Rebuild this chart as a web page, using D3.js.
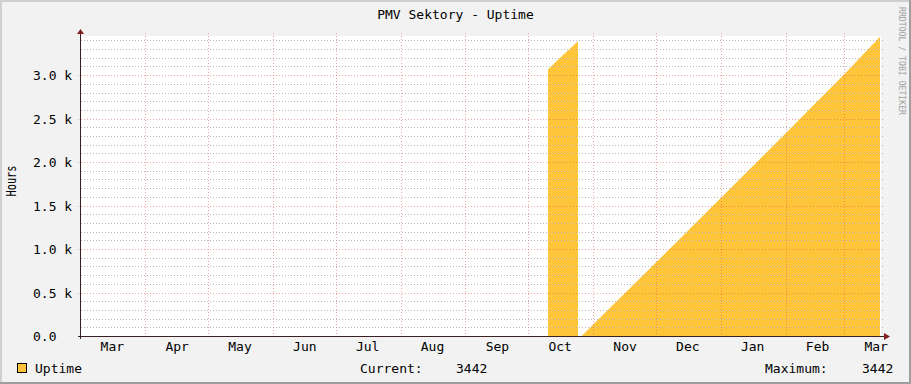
<!DOCTYPE html>
<html>
<head>
<meta charset="utf-8">
<script src="https://cdn.jsdelivr.net/npm/d3@7"></script>
<style>
body { margin: 0; background: #fff; }
svg { display: block; }
text { font-family: "DejaVu Sans Mono", monospace; fill: #000; }
</style>
</head>
<body>
<svg width="911" height="384"></svg>
<script>
// time window of the graph (UTC)
var windowStart = "2014-03-01T06:40:00Z",
  windowEnd = "2015-03-18T13:00:00Z";

// uptime samples, null = unknown
var sampleTimes = [
  "2014-10-10T10:00:00Z", "2014-10-17T12:00:00Z", "2014-10-24T18:00:00Z",
  "2014-10-25T12:00:00Z",
  "2014-10-26T12:00:00Z", "2014-11-01T00:00:00Z", "2014-12-01T00:00:00Z",
  "2015-01-01T00:00:00Z", "2015-02-01T00:00:00Z", "2015-03-01T00:00:00Z",
  "2015-03-18T01:30:00Z"
];
var uptimeHours = [
  3065, 3230, 3390,
  null,
  0, 133, 844,
  1586, 2331, 3011,
  3442
];

var monthLabels = ["Mar", "Apr", "May", "Jun", "Jul", "Aug", "Sep", "Oct", "Nov", "Dec", "Jan", "Feb", "Mar"];
var yMajorTicks = [0, 500, 1000, 1500, 2000, 2500, 3000];
var yMinorTicks = [100, 200, 300, 400, 600, 700, 800, 900, 1100, 1200, 1300, 1400,
  1600, 1700, 1800, 1900, 2100, 2200, 2300, 2400, 2600, 2700, 2800, 2900, 3100, 3200, 3300, 3400];

var svg = d3.select("svg"),
  W = +svg.attr("width"),
  H = +svg.attr("height"),
  margin = { left: 81, top: 36 },
  width = 800,
  height = 300;

var parse = d3.utcParse("%Y-%m-%dT%H:%M:%SZ");
var data = sampleTimes.map(function(t, i) {
  return { t: parse(t), v: uptimeHours[i] };
});

var x = d3.scaleUtc()
  .domain([parse(windowStart), parse(windowEnd)])
  .range([margin.left, margin.left + width]);
var y = d3.scaleLinear()
  .domain([0, 3450])
  .range([margin.top + height, margin.top]);

var gridCol = "#b8b8b8",
  mgridCol = "rgba(222,79,79,0.5)",
  axisCol = "#3a2020",
  arrowCol = "#801f1f";

// background + shaded border
svg.append("rect").attr("width", W).attr("height", H).attr("fill", "#f2f2f2");
svg.append("rect").attr("x", 0).attr("y", 0).attr("width", W).attr("height", 2).attr("fill", "#cfcfcf");
svg.append("rect").attr("x", 0).attr("y", 0).attr("width", 2).attr("height", H).attr("fill", "#cfcfcf");
svg.append("rect").attr("x", 0).attr("y", H - 2).attr("width", W).attr("height", 2).attr("fill", "#9e9e9e");
svg.append("rect").attr("x", W - 2).attr("y", 0).attr("width", 2).attr("height", H).attr("fill", "#9e9e9e");

// canvas
svg.append("rect")
  .attr("x", margin.left).attr("y", margin.top)
  .attr("width", width).attr("height", height)
  .attr("fill", "#fff");

// area
var area = d3.area()
  .defined(function(d) { return d.v != null; })
  .x(function(d) { return x(d.t); })
  .y0(y(0))
  .y1(function(d) { return y(d.v); });

svg.append("path")
  .datum(data)
  .attr("d", area)
  .attr("fill", "#ffc53a");

var px = function(v) { return Math.round(v) + 0.5; };

// horizontal grid
var grid = svg.append("g").attr("shape-rendering", "crispEdges");
grid.selectAll(".minor")
  .data(yMinorTicks)
  .enter().append("line")
  .attr("class", "minor")
  .attr("x1", margin.left).attr("x2", margin.left + width + 2)
  .attr("y1", function(d) { return px(y(d)); })
  .attr("y2", function(d) { return px(y(d)); })
  .attr("stroke", gridCol)
  .attr("stroke-dasharray", "1,2");

grid.selectAll(".major")
  .data(yMajorTicks.slice(1))
  .enter().append("line")
  .attr("class", "major")
  .attr("x1", margin.left - 3).attr("x2", margin.left + width + 2)
  .attr("y1", function(d) { return px(y(d)); })
  .attr("y2", function(d) { return px(y(d)); })
  .attr("stroke", mgridCol)
  .attr("stroke-dasharray", "1,2");

// vertical month grid
var monthStarts = d3.utcMonth.range(d3.utcMonth.ceil(x.domain()[0]), x.domain()[1]);
grid.selectAll(".vgrid")
  .data(monthStarts)
  .enter().append("line")
  .attr("class", "vgrid")
  .attr("x1", function(d) { return px(x(d)); })
  .attr("x2", function(d) { return px(x(d)); })
  .attr("y1", margin.top - 3)
  .attr("y2", margin.top + height + 3)
  .attr("stroke", mgridCol)
  .attr("stroke-dasharray", "1,2");

// axes lines + arrows
var ax = svg.append("g").attr("shape-rendering", "crispEdges");
ax.append("line")
  .attr("x1", margin.left - 0.5).attr("x2", margin.left - 0.5)
  .attr("y1", margin.top + height + 3).attr("y2", margin.top - 3)
  .attr("stroke", axisCol);
ax.append("line")
  .attr("x1", margin.left - 3).attr("x2", margin.left + width + 4)
  .attr("y1", margin.top + height + 0.5).attr("y2", margin.top + height + 0.5)
  .attr("stroke", axisCol);
svg.append("path")
  .attr("d", "M" + (margin.left - 4) + "," + (margin.top - 2) + "L" + (margin.left - 0.5) + "," + (margin.top - 7) + "L" + (margin.left + 3) + "," + (margin.top - 2) + "Z")
  .attr("fill", arrowCol);
svg.append("path")
  .attr("d", "M" + (margin.left + width + 3) + "," + (margin.top + height - 3) + "L" + (margin.left + width + 9) + "," + (margin.top + height + 0.5) + "L" + (margin.left + width + 3) + "," + (margin.top + height + 4) + "Z")
  .attr("fill", arrowCol);

// y labels
var yFmt = function(v) { return v === 0 ? "0.0" : (v / 1000).toFixed(1) + " k"; };
var yAxis = svg.append("g")
  .call(d3.axisLeft(y).tickValues(yMajorTicks).tickFormat(yFmt).tickSize(0));
yAxis.attr("font-family", null).attr("font-size", null);
yAxis.select(".domain").remove();
yAxis.selectAll("text")
  .attr("x", 33)
  .attr("dy", "0.36em")
  .attr("text-anchor", "start")
  .style("font-size", "13px");

// x labels, centred mid-month
var labelTimes = d3.utcMonth.range(d3.utcMonth.floor(x.domain()[0]), x.domain()[1])
  .map(function(m) { return d3.utcDay.offset(m, 15); });
var xAxis = svg.append("g")
  .attr("transform", "translate(0," + (margin.top + height) + ")")
  .call(d3.axisBottom(x).tickValues(labelTimes)
    .tickFormat(function(d, i) { return monthLabels[i]; }).tickSize(0));
xAxis.attr("font-family", null).attr("font-size", null);
xAxis.select(".domain").remove();
xAxis.selectAll("text")
  .attr("y", 6)
  .attr("dy", "0.71em")
  .style("font-size", "13px");

// title
svg.append("text")
  .attr("x", W / 2).attr("y", 19)
  .attr("text-anchor", "middle")
  .style("font-size", "13px")
  .text("PMV Sektory - Uptime");

// vertical unit label
svg.append("text")
  .attr("transform", "translate(16," + 181 + ") rotate(-90)")
  .attr("text-anchor", "middle")
  .attr("textLength", 31)
  .attr("lengthAdjust", "spacingAndGlyphs")
  .style("font-size", "13.5px")
  .text("Hours");

// watermark
svg.append("text")
  .attr("transform", "translate(899,61) rotate(90)")
  .attr("text-anchor", "middle")
  .attr("textLength", 108)
  .attr("lengthAdjust", "spacingAndGlyphs")
  .style("font-size", "9px")
  .style("fill", "#a0a0a0")
  .text("RRDTOOL / TOBI OETIKER");

// legend
var known = uptimeHours.filter(function(v) { return v != null; });
var current = known[known.length - 1],
  maximum = d3.max(known);

svg.append("rect")
  .attr("x", 17.5).attr("y", 363.5)
  .attr("width", 9).attr("height", 9)
  .attr("fill", "#ffc53a")
  .attr("stroke", "#000");

var legend = [
  { x: 35, s: "Uptime" },
  { x: 360, s: "Current:" },
  { x: 456, s: d3.format("d")(current) },
  { x: 765, s: "Maximum:" },
  { x: 862, s: d3.format("d")(maximum) }
];
svg.selectAll(".leg")
  .data(legend)
  .enter().append("text")
  .attr("class", "leg")
  .attr("x", function(d) { return d.x; })
  .attr("y", 373)
  .style("font-size", "13px")
  .text(function(d) { return d.s; });
</script>
</body>
</html>
